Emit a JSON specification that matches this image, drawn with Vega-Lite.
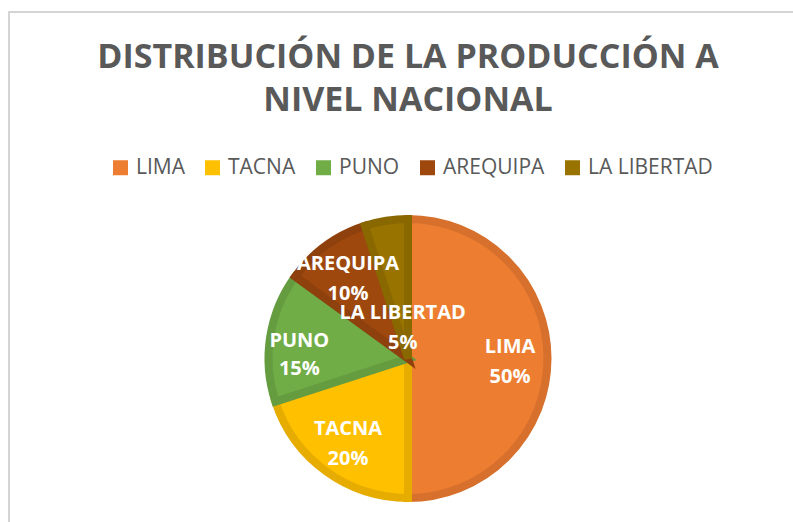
{
  "$schema": "https://vega.github.io/schema/vega-lite/v6.json",
  "autosize": {"type": "none"},
  "padding": {"left": 9, "top": 12, "right": 0, "bottom": 0},
  "width": 798,
  "height": 693,
  "background": "white",
  "view": {"stroke": "#D4D4D4", "strokeWidth": 2},
  "title": {
    "text": ["DISTRIBUCIÓN DE LA PRODUCCIÓN A", "NIVEL NACIONAL"],
    "anchor": "middle",
    "frame": "group",
    "font": "Open Sans",
    "fontSize": 34,
    "fontWeight": "bold",
    "color": "#595959",
    "lineHeight": 43,
    "offset": -106
  },
  "config": {
    "view": {"stroke": "#D4D4D4", "strokeWidth": 2}
  },
  "data": {
    "values": [
      {"region": "LIMA", "value": 50, "orden": 1},
      {"region": "TACNA", "value": 20, "orden": 2},
      {"region": "PUNO", "value": 15, "orden": 3},
      {"region": "AREQUIPA", "value": 10, "orden": 4},
      {"region": "LA LIBERTAD", "value": 5, "orden": 5}
    ]
  },
  "transform": [
    {"calculate": "datum.region + '\\n' + datum.value + '%'", "as": "label"}
  ],
  "encoding": {
    "theta": {"field": "value", "type": "quantitative", "stack": true},
    "order": {"field": "orden", "type": "quantitative"}
  },
  "layer": [
    {
      "mark": {"type": "arc", "outerRadius": 139.5, "strokeWidth": 8, "strokeJoin": "miter"},
      "encoding": {
        "color": {
          "field": "region",
          "type": "nominal",
          "scale": {
            "domain": ["LIMA", "TACNA", "PUNO", "AREQUIPA", "LA LIBERTAD"],
            "range": ["#ED7D31", "#FFC000", "#70AD47", "#9E480E", "#997300"]
          },
          "legend": {
            "orient": "none",
            "legendX": 101,
            "legendY": 145,
            "direction": "horizontal",
            "columns": 5,
            "columnPadding": 17,
            "title": null,
            "symbolType": "square",
            "symbolSize": 225,
            "symbolStrokeWidth": 0,
            "symbolOpacity": 1,
            "labelOffset": 5,
            "labelFont": "Open Sans",
            "labelFontSize": 21,
            "labelColor": "#595959",
            "padding": 0
          }
        },
        "stroke": {
          "field": "region",
          "type": "nominal",
          "scale": {
            "domain": ["LIMA", "TACNA", "PUNO", "AREQUIPA", "LA LIBERTAD"],
            "range": ["#D6702C", "#E6AD00", "#659C40", "#8E410D", "#8A6800"]
          },
          "legend": null
        }
      }
    },
    {
      "mark": {"type": "text", "radius": 102, "dy": -12, "lineBreak": "\n", "lineHeight": 30, "font": "Open Sans", "fontSize": 20, "fontWeight": "bold", "color": "white"},
      "encoding": {
        "text": {"condition": {"test": "datum.region === 'LA LIBERTAD' || datum.region === 'PUNO'", "value": ""}, "field": "label", "type": "nominal"}
      }
    },
    {
      "mark": {"type": "text", "radius": 110, "dy": 0, "lineBreak": "\n", "lineHeight": 28, "font": "Open Sans", "fontSize": 20, "fontWeight": "bold", "color": "white"},
      "encoding": {
        "text": {"condition": {"test": "datum.region !== 'PUNO'", "value": ""}, "field": "label", "type": "nominal"}
      }
    },
    {
      "mark": {"type": "text", "radius": 34, "dy": -12, "lineBreak": "\n", "lineHeight": 30, "font": "Open Sans", "fontSize": 20, "fontWeight": "bold", "color": "white"},
      "encoding": {
        "text": {"condition": {"test": "datum.region !== 'LA LIBERTAD'", "value": ""}, "field": "label", "type": "nominal"}
      }
    }
  ]
}
